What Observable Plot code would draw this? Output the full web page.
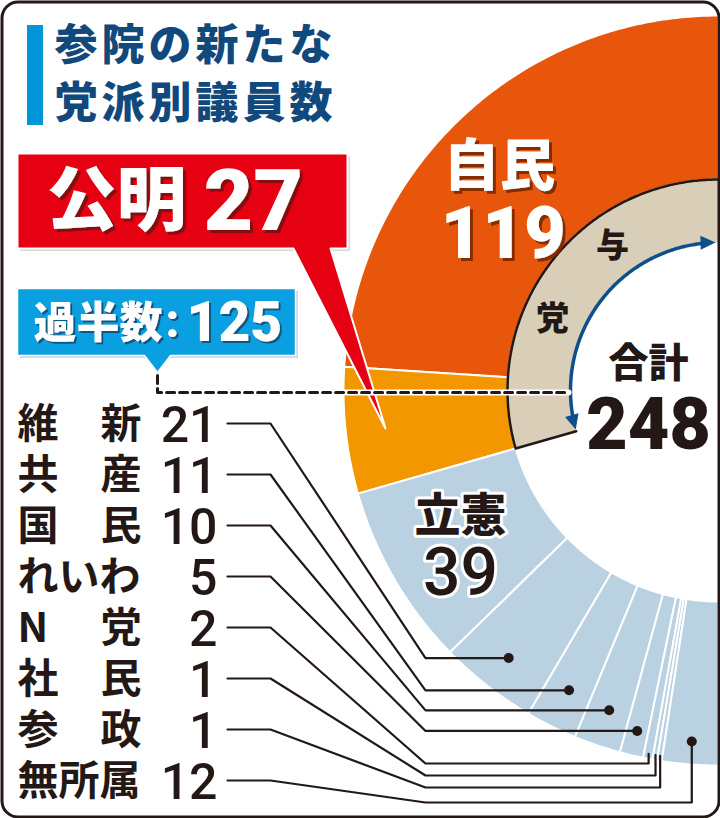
<!DOCTYPE html>
<html><head><meta charset="utf-8">
<script src="https://cdn.jsdelivr.net/npm/d3@7"></script>
<script src="https://cdn.jsdelivr.net/npm/@observablehq/plot@0.6"></script>
<style>
html,body{margin:0;padding:0;background:#fff;}
#chart{width:720px;height:818px;overflow:hidden;}
</style></head><body><div id="chart"></div>
<script>
// ---- data ----
const parties = ["自民","公明","立憲","維新","共産","国民","れいわ","N党","社民","参政","無所属"];
const seats = [119,27,39,21,11,10,5,2,1,1,12];
const totalSeats = 248;
const majority = 125;
const rulingParties = ["自民","公明"];
const listParties = ["維新","共産","国民","れいわ","N党","社民","参政","無所属"];
const listNames = [["維","新"],["共","産"],["国","民"],["れいわ"],["N","党"],["社","民"],["参","政"],["無所属"]];
const titleLines = ["参院の新たな","党派別議員数"];
const rulingLabel = ["与","党"];
const totalLabel = "合計";
const majorityLabel = "過半数";
const dotShown = ["維新","共産","国民","れいわ","無所属"];

// ---- styles ----
const colors = {自民:"#e8560b", 公明:"#f29700", other:"#b9d1e1", ruling:"#d9cfb8", ink:"#231815",
  arrow:"#0b4f8d", red:"#e50012", redShadow:"#7a0a10", cyan:"#0a9fe0", cyanShadow:"#0b4f7a",
  navy:"#11497d", bar:"#0096d8", orangeShadow:"#7a2a06", boxShadow:"#d6d6d6"};
const JP = "'Noto Sans CJK JP', 'Noto Sans', sans-serif";
const NUM = "Roboto, 'Liberation Sans', 'Noto Sans CJK JP', sans-serif";

// ---- layout ----
const L = {cx:718, cy:390, rOuter:375, rInner:211, rRulingIn:148,
  rowX0:17, rowX1:141, numX:217, rowY0:423, rowDy:51, lineX0:227, lineX1:270, lineX2:425,
  dotR:{維新:340, 共産:335, 国民:338, れいわ:350, N党:370, 社民:370, 参政:370, 無所属:352},
  tailY:{N党:763, 社民:775, 参政:787, 無所属:802}};

const ang = d3.scaleLinear().domain([0, totalSeats]).range([0, Math.PI]);
const polar = (a, r) => ({x: L.cx - r * Math.sin(a), y: L.cy - r * Math.cos(a)});
function arcPts(a0, a1, r) {
  const n = Math.max(2, Math.ceil(Math.abs(a1 - a0) / (Math.PI / 360)));
  return d3.range(n + 1).map(i => polar(a0 + (a1 - a0) * i / n, r));
}
function ringPoly(a0, a1, r0, r1) { return [...arcPts(a0, a1, r1), ...arcPts(a1, a0, r0)]; }

let acc = 0;
const segs = parties.map((p, i) => { const s = {party: p, v: seats[i], c0: acc, c1: acc + seats[i]}; acc += seats[i]; return s; });
const segOf = p => segs.find(s => s.party === p);
const rulingSeats = d3.sum(rulingParties, p => segOf(p).v);

const marks = [];
for (const s of segs) {
  const fill = colors[s.party] || colors.other;
  marks.push(Plot.line(ringPoly(ang(s.c0), ang(s.c1), L.rInner, L.rOuter),
    {x:"x", y:"y", fill, stroke:"white", strokeWidth:2, curve:"linear-closed"}));
}
const aR = ang(rulingSeats);
marks.push(Plot.line(ringPoly(0, aR, L.rRulingIn, L.rInner), {x:"x", y:"y", fill:colors.ruling, curve:"linear-closed"}));
marks.push(Plot.line([...arcPts(0, aR, L.rInner), polar(aR, L.rRulingIn)], {x:"x", y:"y", stroke:colors.ink, strokeWidth:2.5}));
const rA = L.rRulingIn, aTop = 0.02, aBot = aR - 0.012, headLen = 15, headW = 7;
function head(a, sign) {
  const t = polar(a, rA);
  const dir = sign < 0 ? {x: Math.cos(a), y: -Math.sin(a)} : {x: -Math.cos(a), y: Math.sin(a)};
  const b = {x: t.x - dir.x * headLen, y: t.y - dir.y * headLen};
  const n = {x: -dir.y, y: dir.x};
  return [t, {x: b.x + n.x * headW, y: b.y + n.y * headW}, {x: b.x - n.x * headW, y: b.y - n.y * headW}];
}
marks.push(Plot.line(arcPts(aTop + headLen / rA * 0.8, aBot - headLen / rA * 0.8, rA), {x:"x", y:"y", stroke:colors.arrow, strokeWidth:3.5}));
marks.push(Plot.line(head(aTop, -1), {x:"x", y:"y", fill:colors.arrow, curve:"linear-closed"}));
marks.push(Plot.line(head(aBot, 1), {x:"x", y:"y", fill:colors.arrow, curve:"linear-closed"}));

const dots = [];
listParties.forEach((p, i) => {
  const s = segOf(p);
  const pt = polar(ang((s.c0 + s.c1) / 2), L.dotR[p]);
  const rowY = L.rowY0 + i * L.rowDy;
  const yEnd = L.tailY[p] !== undefined ? L.tailY[p] : pt.y;
  const pts = [{x:L.lineX0, y:rowY}, {x:L.lineX1, y:rowY}, {x:L.lineX2, y:yEnd}, {x:pt.x, y:yEnd}];
  if (yEnd !== pt.y) pts.push(pt);
  marks.push(Plot.line(pts, {x:"x", y:"y", stroke:colors.ink, strokeWidth:2.2}));
  if (dotShown.includes(p)) dots.push(pt);
});
marks.push(Plot.dot(dots, {x:"x", y:"y", r:5, fill:colors.ink}));

const redBox = {x1:17, x2:347, y1:153, y2:248};
const redPoly = [{x:17,y:153},{x:347,y:153},{x:347,y:248},{x:330,y:248},{x:385,y:428},{x:293,y:248},{x:17,y:248}];
marks.push(Plot.rect([redBox], {x1:d=>d.x1+3, x2:d=>d.x2+3, y1:d=>d.y1+3, y2:d=>d.y2+3, fill:colors.boxShadow}));
marks.push(Plot.line(redPoly, {x:"x", y:"y", fill:colors.red, stroke:"white", strokeWidth:2, curve:"linear-closed"}));
const cyanBox = {x1:17, x2:295, y1:288, y2:355};
const cyanPoly = [{x:17,y:288},{x:295,y:288},{x:295,y:355},{x:170,y:355},{x:157,y:372},{x:144,y:355},{x:17,y:355}];
marks.push(Plot.rect([cyanBox], {x1:d=>d.x1+3, x2:d=>d.x2+3, y1:d=>d.y1+3, y2:d=>d.y2+3, fill:colors.boxShadow}));
marks.push(Plot.line(cyanPoly, {x:"x", y:"y", fill:colors.cyan, stroke:"white", strokeWidth:1.5, curve:"linear-closed"}));

const mPt = polar(ang(majority), L.rRulingIn + 2);
const mLine = [{x:157, y:375}, {x:157, y:mPt.y}, {x:mPt.x, y:mPt.y}];
marks.push(Plot.line(mLine, {x:"x", y:"y", stroke:"white", strokeWidth:6}));
marks.push(Plot.line(mLine, {x:"x", y:"y", stroke:colors.ink, strokeWidth:3, strokeDasharray:"8,5"}));

marks.push(Plot.rect([{x1:27, x2:43, y1:25, y2:125}], {x1:"x1", x2:"x2", y1:"y1", y2:"y2", fill:colors.bar}));
const T = (t, x, y, o) => Plot.text([{t, x, y}], {x:"x", y:"y", text:"t", lineAnchor:"middle", ...o});
titleLines.forEach((t, i) => marks.push(T(t, 54, 46 + i * 58, {textAnchor:"start", fontSize:43, fontWeight:900, fontFamily:JP, fill:colors.navy, ariaDescription:"title"})));

const komei = segOf("公明");
marks.push(T(komei.party, 46, 202, {textAnchor:"start", fontSize:70, fontWeight:900, fontFamily:JP, fill:"white", ariaDescription:"sh-red"}));
marks.push(T(String(komei.v), 203, 202, {textAnchor:"start", fontSize:86, fontWeight:900, fontFamily:NUM, fill:"white", ariaDescription:"sh-red"}));
marks.push(T(majorityLabel, 33, 324, {textAnchor:"start", fontSize:43, fontWeight:900, fontFamily:JP, fill:"white", ariaDescription:"sh-cyan"}));
marks.push(T(":", 172, 322, {textAnchor:"middle", fontSize:46, fontWeight:900, fontFamily:NUM, fill:"white", ariaDescription:"sh-cyan"}));
marks.push(T(String(majority), 186, 323, {textAnchor:"start", fontSize:55, fontWeight:900, fontFamily:NUM, fill:"white", ariaDescription:"sh-cyan"}));
const jimin = segOf("自民");
marks.push(T(jimin.party, 443, 167, {textAnchor:"start", fontSize:56, fontWeight:900, fontFamily:JP, fill:"white", ariaDescription:"sh-orange"}));
marks.push(T(String(jimin.v), 440, 234, {textAnchor:"start", fontSize:72, fontWeight:900, fontFamily:NUM, fill:"white", ariaDescription:"sh-orange"}));
const rikken = segOf("立憲");
marks.push(T(rikken.party, 460, 516, {textAnchor:"middle", fontSize:46, fontWeight:900, fontFamily:JP, fill:colors.ink, stroke:"white", strokeWidth:6}));
marks.push(T(String(rikken.v), 460, 573, {textAnchor:"middle", fontSize:66, fontWeight:500, fontFamily:NUM, fill:colors.ink, stroke:"white", strokeWidth:6}));
marks.push(T(rulingLabel[0], 612, 246, {textAnchor:"middle", fontSize:33, fontWeight:900, fontFamily:JP, fill:colors.ink}));
marks.push(T(rulingLabel[1], 552, 319, {textAnchor:"middle", fontSize:33, fontWeight:900, fontFamily:JP, fill:colors.ink}));
marks.push(T(totalLabel, 648, 364, {textAnchor:"middle", fontSize:40, fontWeight:900, fontFamily:JP, fill:colors.ink}));
marks.push(T(String(totalSeats), 648, 425, {textAnchor:"middle", fontSize:72, fontWeight:900, fontFamily:NUM, fill:colors.ink}));

listParties.forEach((p, i) => {
  const y = L.rowY0 + i * L.rowDy;
  const nm = listNames[i];
  marks.push(T(nm[0], L.rowX0, y + 1, {textAnchor:"start", fontSize:41, fontWeight:700, fontFamily:JP, fill:colors.ink}));
  if (nm.length > 1) marks.push(T(nm[1], L.rowX1, y + 1, {textAnchor:"end", fontSize:41, fontWeight:700, fontFamily:JP, fill:colors.ink}));
  marks.push(T(String(segOf(p).v), L.numX, y + 2, {textAnchor:"end", fontSize:50, fontWeight:500, fontFamily:NUM, fill:colors.ink}));
});

marks.push(Plot.frame({stroke:colors.ink, strokeWidth:3, rx:16, inset:1.5}));

const chart = Plot.plot({
  width:720, height:818, margin:0,
  x:{domain:[0,720], range:[0,720], axis:null},
  y:{domain:[0,818], range:[0,818], axis:null},
  style:{background:"white", overflow:"hidden"},
  marks
});
const NS = "http://www.w3.org/2000/svg";
const defs = document.createElementNS(NS, "defs");
[["sh-red", colors.redShadow, 3], ["sh-cyan", colors.cyanShadow, 2], ["sh-orange", colors.orangeShadow, 3]].forEach(([id, c, d]) => {
  const f = document.createElementNS(NS, "filter");
  f.setAttribute("id", id); f.setAttribute("x", "-10%"); f.setAttribute("y", "-10%"); f.setAttribute("width", "130%"); f.setAttribute("height", "130%");
  const s = document.createElementNS(NS, "feDropShadow");
  s.setAttribute("dx", d); s.setAttribute("dy", d); s.setAttribute("stdDeviation", "0.6");
  s.setAttribute("flood-color", c); s.setAttribute("flood-opacity", "0.9");
  f.appendChild(s); defs.appendChild(f);
  chart.querySelectorAll(`g[aria-description="${id}"]`).forEach(g => g.setAttribute("filter", `url(#${id})`));
});
chart.insertBefore(defs, chart.firstChild);
chart.querySelectorAll('g[aria-description="title"] text').forEach(el => el.setAttribute("letter-spacing", "4"));
document.getElementById("chart").appendChild(chart);
</script></body></html>
